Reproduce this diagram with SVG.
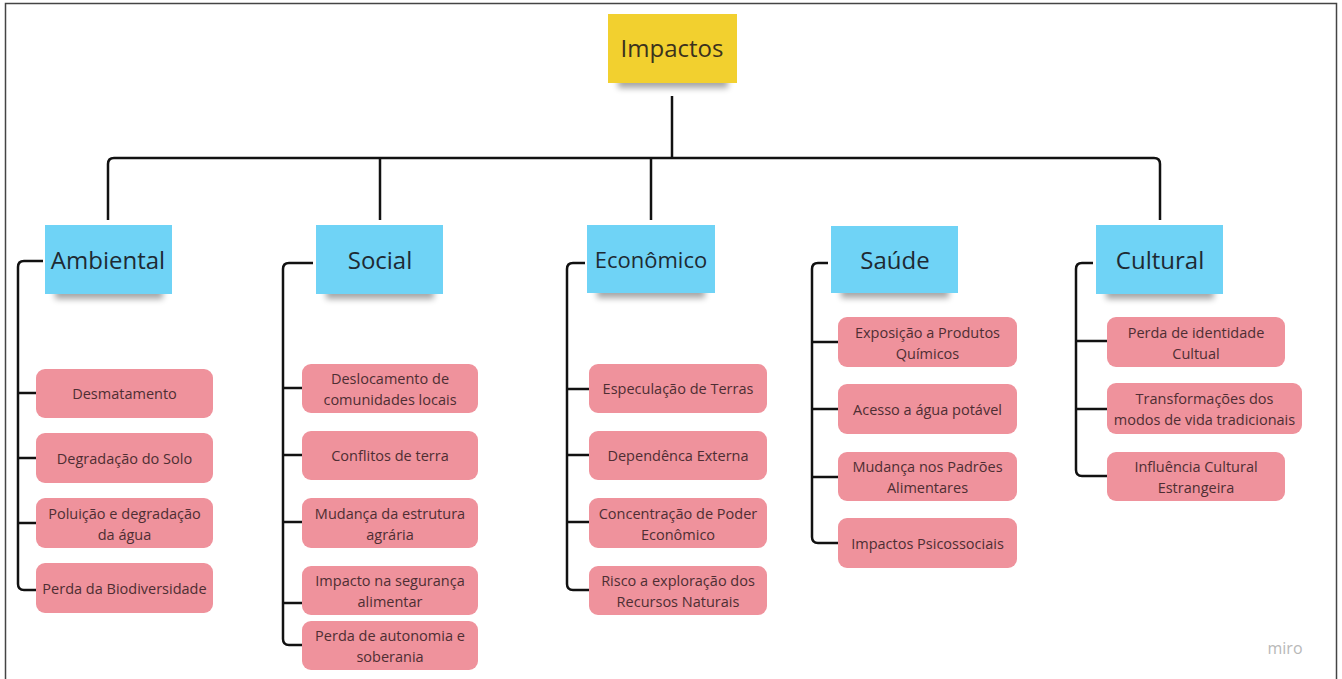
<svg xmlns="http://www.w3.org/2000/svg" width="1342" height="679" viewBox="0 0 1342 679">
<defs>
<filter id="blur" x="-20%" y="-50%" width="140%" height="200%"><feGaussianBlur stdDeviation="3"/></filter>
<style>
.cat{fill:#6fd3f6}
.top{fill:#f2d02f}
.leaf{fill:#ef929c}
.sh{fill:#000;opacity:.35;filter:url(#blur)}
.ct{font-family:"Open Sans","Noto Sans","Liberation Sans",sans-serif;font-size:24px;fill:#1e2a33;text-anchor:middle;dominant-baseline:central}
.tt{font-family:"Open Sans","Noto Sans","Liberation Sans",sans-serif;font-size:24px;fill:#3b321d;text-anchor:middle;dominant-baseline:central}
.lt{font-family:"Open Sans","Noto Sans","Liberation Sans",sans-serif;font-size:14.5px;fill:#4e2e33;text-anchor:middle;dominant-baseline:central}
.ln{fill:none;stroke:#111;stroke-width:2.5;stroke-linejoin:round;stroke-linecap:butt}
</style>
</defs>
<rect x="0" y="0" width="1342" height="679" fill="#fff"/>
<rect x="5.5" y="3.5" width="1331" height="690" fill="none" stroke="#444" stroke-width="1.5"/>

<g id="connectors">
<path class="ln" d="M672,96 V158"/>
<path class="ln" d="M108,220 V164 Q108,158 114,158 H1154 Q1160,158 1160,164 V220"/>
<path class="ln" d="M380,158 V220"/>
<path class="ln" d="M651,158 V220"/>
<path class="ln" d="M43,261 H24 Q18,261 18,267 V584 Q18,590 24,590 H36 M18,393 H36 M18,458 H36 M18,523 H36"/>
<path class="ln" d="M313,263 H289 Q283,263 283,269 V639 Q283,645 289,645 H302 M283,388 H302 M283,455 H302 M283,522 H302 M283,603 H302"/>
<path class="ln" d="M585,263 H573 Q567,263 567,269 V584 Q567,590 573,590 H589 M567,389 H589 M567,455 H589 M567,522 H589"/>
<path class="ln" d="M828,263 H818 Q812,263 812,269 V537 Q812,543 818,543 H838 M812,342 H838 M812,409 H838 M812,477 H838"/>
<path class="ln" d="M1093,263 H1082 Q1076,263 1076,269 V470 Q1076,476 1082,476 H1107 M1076,341 H1107 M1076,409 H1107"/>
</g>

<g id="n-impactos">
<rect class="sh" x="618" y="74" width="110" height="14"/>
<rect class="top" x="608" y="14" width="129" height="69"/>
<text class="tt" x="672" y="47">Impactos</text>
</g>

<g id="n-ambiental">
<rect class="sh" x="55" y="285" width="108" height="14"/>
<rect class="cat" x="45" y="225" width="127" height="69"/>
<text class="ct" x="108" y="259">Ambiental</text>
</g>
<g id="n-social">
<rect class="sh" x="326" y="285" width="108" height="14"/>
<rect class="cat" x="316" y="225" width="127" height="69"/>
<text class="ct" x="380" y="259">Social</text>
</g>
<g id="n-economico">
<rect class="sh" x="597" y="284" width="108" height="14"/>
<rect class="cat" x="587" y="225" width="128" height="68"/>
<text class="ct" x="651" y="259" style="font-size:22px">Econômico</text>
</g>
<g id="n-saude">
<rect class="sh" x="841" y="284" width="108" height="14"/>
<rect class="cat" x="831" y="226" width="127" height="67"/>
<text class="ct" x="895" y="259">Saúde</text>
</g>
<g id="n-cultural">
<rect class="sh" x="1106" y="285" width="108" height="14"/>
<rect class="cat" x="1096" y="225" width="127" height="69"/>
<text class="ct" x="1160" y="259">Cultural</text>
</g>

<g id="n-desmatamento"><rect class="leaf" x="36" y="369" width="177" height="49" rx="9"/><text class="lt" x="124.5" y="393.5">Desmatamento</text></g>
<g id="n-degradacao-solo"><rect class="leaf" x="36" y="433" width="177" height="50" rx="9"/><text class="lt" x="124.5" y="458">Degradação do Solo</text></g>
<g id="n-poluicao"><rect class="leaf" x="36" y="498" width="177" height="50" rx="9"/><text class="lt" x="124.5" y="513">Poluição e degradação</text><text class="lt" x="124.5" y="534">da água</text></g>
<g id="n-biodiversidade"><rect class="leaf" x="36" y="563" width="177" height="50" rx="9"/><text class="lt" x="124.5" y="588">Perda da Biodiversidade</text></g>

<g id="n-deslocamento"><rect class="leaf" x="302" y="364" width="176" height="49" rx="9"/><text class="lt" x="390" y="378">Deslocamento de</text><text class="lt" x="390" y="399">comunidades locais</text></g>
<g id="n-conflitos"><rect class="leaf" x="302" y="431" width="176" height="49" rx="9"/><text class="lt" x="390" y="455.5">Conflitos de terra</text></g>
<g id="n-estrutura"><rect class="leaf" x="302" y="498" width="176" height="50" rx="9"/><text class="lt" x="390" y="513">Mudança da estrutura</text><text class="lt" x="390" y="534">agrária</text></g>
<g id="n-seguranca"><rect class="leaf" x="302" y="566" width="176" height="49" rx="9"/><text class="lt" x="390" y="580">Impacto na segurança</text><text class="lt" x="390" y="601">alimentar</text></g>
<g id="n-autonomia"><rect class="leaf" x="302" y="621" width="176" height="49" rx="9"/><text class="lt" x="390" y="635">Perda de autonomia e</text><text class="lt" x="390" y="656">soberania</text></g>

<g id="n-especulacao"><rect class="leaf" x="589" y="364" width="178" height="49" rx="9"/><text class="lt" x="678" y="388.5">Especulação de Terras</text></g>
<g id="n-dependencia"><rect class="leaf" x="589" y="431" width="178" height="49" rx="9"/><text class="lt" x="678" y="455.5">Dependênca Externa</text></g>
<g id="n-concentracao"><rect class="leaf" x="589" y="498" width="178" height="50" rx="9"/><text class="lt" x="678" y="513">Concentração de Poder</text><text class="lt" x="678" y="534">Econômico</text></g>
<g id="n-risco"><rect class="leaf" x="589" y="566" width="178" height="49" rx="9"/><text class="lt" x="678" y="580">Risco a exploração dos</text><text class="lt" x="678" y="601">Recursos Naturais</text></g>

<g id="n-exposicao"><rect class="leaf" x="838" y="317" width="179" height="50" rx="9"/><text class="lt" x="927.5" y="332">Exposição a Produtos</text><text class="lt" x="927.5" y="353">Químicos</text></g>
<g id="n-acesso"><rect class="leaf" x="838" y="384" width="179" height="50" rx="9"/><text class="lt" x="927.5" y="409">Acesso a água potável</text></g>
<g id="n-padroes"><rect class="leaf" x="838" y="452" width="179" height="49" rx="9"/><text class="lt" x="927.5" y="466">Mudança nos Padrões</text><text class="lt" x="927.5" y="487">Alimentares</text></g>
<g id="n-psicossociais"><rect class="leaf" x="838" y="518" width="179" height="50" rx="9"/><text class="lt" x="927.5" y="543">Impactos Psicossociais</text></g>

<g id="n-identidade"><rect class="leaf" x="1107" y="317" width="178" height="50" rx="9"/><text class="lt" x="1196" y="332">Perda de identidade</text><text class="lt" x="1196" y="353">Cultual</text></g>
<g id="n-transformacoes"><rect class="leaf" x="1107" y="383" width="195" height="51" rx="9"/><text class="lt" x="1204.5" y="398">Transformações dos</text><text class="lt" x="1204.5" y="419">modos de vida tradicionais</text></g>
<g id="n-influencia"><rect class="leaf" x="1107" y="452" width="178" height="49" rx="9"/><text class="lt" x="1196" y="466">Influência Cultural</text><text class="lt" x="1196" y="487">Estrangeira</text></g>

<text x="1285" y="648" font-family="'Open Sans','Noto Sans',sans-serif" font-size="16" fill="#b8b8b8" text-anchor="middle" dominant-baseline="central">miro</text>
</svg>
